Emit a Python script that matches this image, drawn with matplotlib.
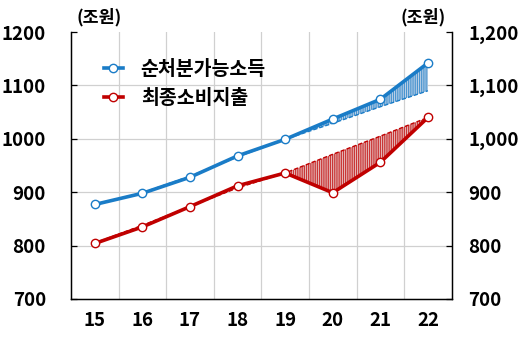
import matplotlib
matplotlib.use("Agg")
import matplotlib.pyplot as plt
from matplotlib.ticker import FuncFormatter

plt.rcParams['font.family'] = ['Noto Sans CJK KR', 'DejaVu Sans']
plt.rcParams['hatch.linewidth'] = 0.5

years = ["15", "16", "17", "18", "19", "20", "21", "22"]
income = [877, 898, 928, 968, 999, 1037, 1074, 1142]
consumption = [804, 835, 873, 912, 936, 899, 956, 1040]
income_trend = [877, 899, 930, 966, 999, 1029, 1060, 1090]
consumption_trend = [805, 838, 873, 908, 936, 971, 1005, 1040]
label_income = "순처분가능소득"
label_cons = "최종소비지출"
yticks = [700, 800, 900, 1000, 1100, 1200]

BLUE = "#1A7CC7"
RED = "#C00000"

fig = plt.figure(figsize=(5.31, 3.37), dpi=100)
ax = fig.add_axes([0.1337, 0.1128, 0.717, 0.7922])
x = list(range(len(years)))

ax.set_xlim(-0.5, len(years) - 0.5)
ax.set_ylim(700, 1200)

# gridlines
for gx in [i + 0.5 for i in range(len(years) - 1)]:
    ax.axvline(gx, color="#D0D0D0", lw=0.9, zorder=0)
for gy in yticks[1:-1]:
    ax.axhline(gy, color="#D0D0D0", lw=0.9, zorder=0)

# trend lines and gaps
ax.plot(x, income_trend, color=BLUE, lw=1.0, ls=(0, (3, 1.5)), zorder=2)
ax.plot(x, consumption_trend, color=RED, lw=1.0, ls=(0, (3, 1.5)), zorder=2)
xs = x[4:]
ax.fill_between(xs, income[4:], income_trend[4:], facecolor="#B9CFE6",
                edgecolor=BLUE, hatch="|||||||||", lw=0, zorder=1)
ax.fill_between(xs, consumption[4:], consumption_trend[4:], facecolor="#E3B5B5",
                edgecolor=RED, hatch="|||||||||", lw=0, zorder=1)

ax.plot(x, income, color=BLUE, lw=2.6, marker="o", ms=6, mfc="white",
        mec=BLUE, mew=1.0, label=label_income, zorder=3)
ax.plot(x, consumption, color=RED, lw=2.6, marker="o", ms=6, mfc="white",
        mec=RED, mew=1.0, label=label_cons, zorder=3)

ax.set_xticks(x)
ax.set_xticklabels(years)
ax.set_yticks(yticks)
ax.tick_params(axis="x", length=0, pad=9, labelsize=13.5)
ax.tick_params(axis="y", direction="in", length=4, width=0.9, pad=18, labelsize=13.5)
for lab in ax.get_xticklabels() + ax.get_yticklabels():
    lab.set_fontweight("bold")
ax.spines["top"].set_visible(False)
for s in ["left", "bottom", "right"]:
    ax.spines[s].set_color("black")
    ax.spines[s].set_linewidth(1.0)

ax2 = ax.twinx()
ax2.set_ylim(700, 1200)
ax2.set_yticks(yticks)
ax2.yaxis.set_major_formatter(FuncFormatter(lambda v, p: f"{int(v):,}"))
ax2.tick_params(axis="y", direction="in", length=4, width=0.9, pad=12, labelsize=13.5)
for lab in ax2.get_yticklabels():
    lab.set_fontweight("bold")
ax2.spines["top"].set_visible(False)

ax.text(0.015, 1.02, "(조원)", transform=ax.transAxes, fontsize=12.5,
        fontweight="bold", ha="left", va="bottom")
ax.text(0.985, 1.02, "(조원)", transform=ax.transAxes, fontsize=12.5,
        fontweight="bold", ha="right", va="bottom")

leg = ax.legend(loc="upper left", bbox_to_anchor=(0.04, 0.96), frameon=False,
                handlelength=1.0, handletextpad=0.9, labelspacing=0.5,
                prop={"size": 14, "weight": "bold"})

fig.savefig("out.png", dpi=100)
